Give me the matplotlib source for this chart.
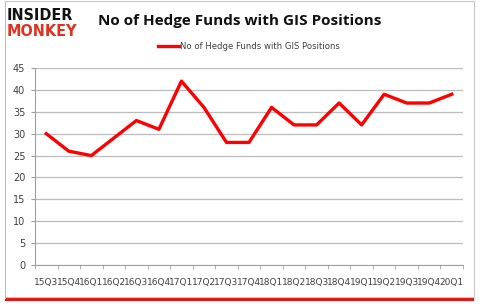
import numpy as np
import matplotlib.pyplot as plt
from matplotlib.patches import Rectangle

quarters = ["15Q3", "15Q4", "16Q1", "16Q2", "16Q3", "16Q4", "17Q1", "17Q2",
            "17Q3", "17Q4", "18Q1", "18Q2", "18Q3", "18Q4", "19Q1", "19Q2",
            "19Q3", "19Q4", "20Q1"]
funds = [30, 26, 25, 29, 33, 31, 42, 36, 28, 28, 36, 32, 32, 37, 32, 39, 37, 37, 39]
yticks = [0, 5, 10, 15, 20, 25, 30, 35, 40, 45]

fig = plt.figure(figsize=(4.79, 3.07), dpi=100)

# outer frame with red shadow at the bottom, pinkish left edge
fig.patches.append(Rectangle((5/479, 1 - 301/307), 469/479, 300/307,
                             transform=fig.transFigure, facecolor="#e81010",
                             edgecolor="none", zorder=-3))
fig.patches.append(Rectangle((5/479, 1 - 297/307), 469/479, 296/307,
                             transform=fig.transFigure, facecolor="white",
                             edgecolor="#c8c8c8", linewidth=0.8, zorder=-2))
fig.patches.append(Rectangle((4.5/479, 1 - 299/307), 1.5/479, 298/307,
                             transform=fig.transFigure, facecolor="#f2a8a8",
                             edgecolor="none", zorder=-1))

ax = fig.add_axes([35/479, 1 - 265/307, 428/479, 197/307])
ax.patch.set_alpha(0)
x = np.arange(len(quarters))
ax.plot(x, funds, color="#ff0000", linewidth=2.4, label="No of Hedge Funds with GIS Positions")

ax.set_xlim(-0.5, len(quarters) - 0.5)
ax.set_ylim(0, 45)
ax.set_yticks(yticks)
ax.set_xticks(x)
ax.set_xticklabels(quarters)
ax.set_xticks(np.arange(-0.5, len(quarters)), minor=True)
ax.tick_params(axis="x", which="major", length=0, pad=9, labelsize=6.5, colors="#404040")
ax.tick_params(axis="x", which="minor", length=3, color="#a0a0a0")
ax.tick_params(axis="y", length=3, color="#a0a0a0", labelsize=7, labelcolor="#404040", pad=4)
ax.grid(axis="y", color="#bcbcbc", linewidth=0.9)
ax.set_axisbelow(True)
for s in ["top", "right"]:
    ax.spines[s].set_visible(False)
for s in ["left", "bottom"]:
    ax.spines[s].set_color("#a0a0a0")
    ax.spines[s].set_linewidth(0.8)

ax.legend(loc="lower center", bbox_to_anchor=(0.5, 1.05), frameon=False,
          fontsize=6.1, handlelength=2.4, handletextpad=0.1, labelcolor="#404040")

fig.text(240/479, 1 - 21/307, "No of Hedge Funds with GIS Positions",
         ha="center", va="center", fontsize=11, fontweight="bold",
         family="Open Sans", color="#111111")
fig.text(7/479, 1 - 15/307, "INSIDER", ha="left", va="center", fontsize=11.5,
         fontweight="heavy", fontstretch="condensed", family="DejaVu Sans", color="#111111")
fig.text(7/479, 1 - 31/307, "MONKEY", ha="left", va="center", fontsize=11.5,
         fontweight="heavy", fontstretch="condensed", family="DejaVu Sans", color="#e0301e")

fig.savefig("out.png", dpi=100)
